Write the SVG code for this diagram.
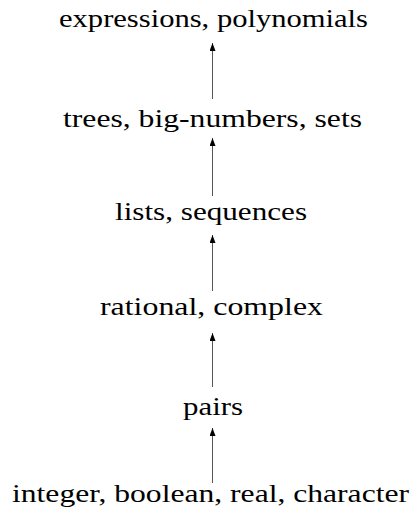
<svg xmlns="http://www.w3.org/2000/svg" width="414" height="515" viewBox="0 0 414 515">
<style>
  text { font-family: "Liberation Serif", "DejaVu Serif", serif; font-size: 25px; fill: #000; text-anchor: middle; }
  .conn line { stroke: #555; stroke-width: 1; }
</style>
<defs>
  <marker id="ah" viewBox="0 0 8 6" refX="8" refY="3" markerWidth="8" markerHeight="6" markerUnits="userSpaceOnUse" orient="auto">
    <path d="M0,0 L8,3 L0,6 Z" fill="#000"/>
  </marker>
</defs>
<rect width="414" height="515" fill="#fff"/>
<g id="n-expressions"><text x="213.5" y="27" textLength="309" lengthAdjust="spacingAndGlyphs">expressions, polynomials</text></g>
<g id="n-trees"><text x="212.5" y="127" textLength="299" lengthAdjust="spacingAndGlyphs">trees, big-numbers, sets</text></g>
<g id="n-lists"><text x="211" y="220" textLength="192" lengthAdjust="spacingAndGlyphs">lists, sequences</text></g>
<g id="n-rational"><text x="211.5" y="315" textLength="223" lengthAdjust="spacingAndGlyphs">rational, complex</text></g>
<g id="n-pairs"><text x="213" y="415" textLength="60" lengthAdjust="spacingAndGlyphs">pairs</text></g>
<g id="n-integer"><text x="210.5" y="502" textLength="397" lengthAdjust="spacingAndGlyphs">integer, boolean, real, character</text></g>
<g id="connectors" class="conn">
  <line x1="212.5" y1="99" x2="212.5" y2="43" marker-end="url(#ah)"/>
  <line x1="212.5" y1="196" x2="212.5" y2="138" marker-end="url(#ah)"/>
  <line x1="212.5" y1="291" x2="212.5" y2="235" marker-end="url(#ah)"/>
  <line x1="212.5" y1="387" x2="212.5" y2="333" marker-end="url(#ah)"/>
  <line x1="212.5" y1="483" x2="212.5" y2="428" marker-end="url(#ah)"/>
</g>
</svg>
